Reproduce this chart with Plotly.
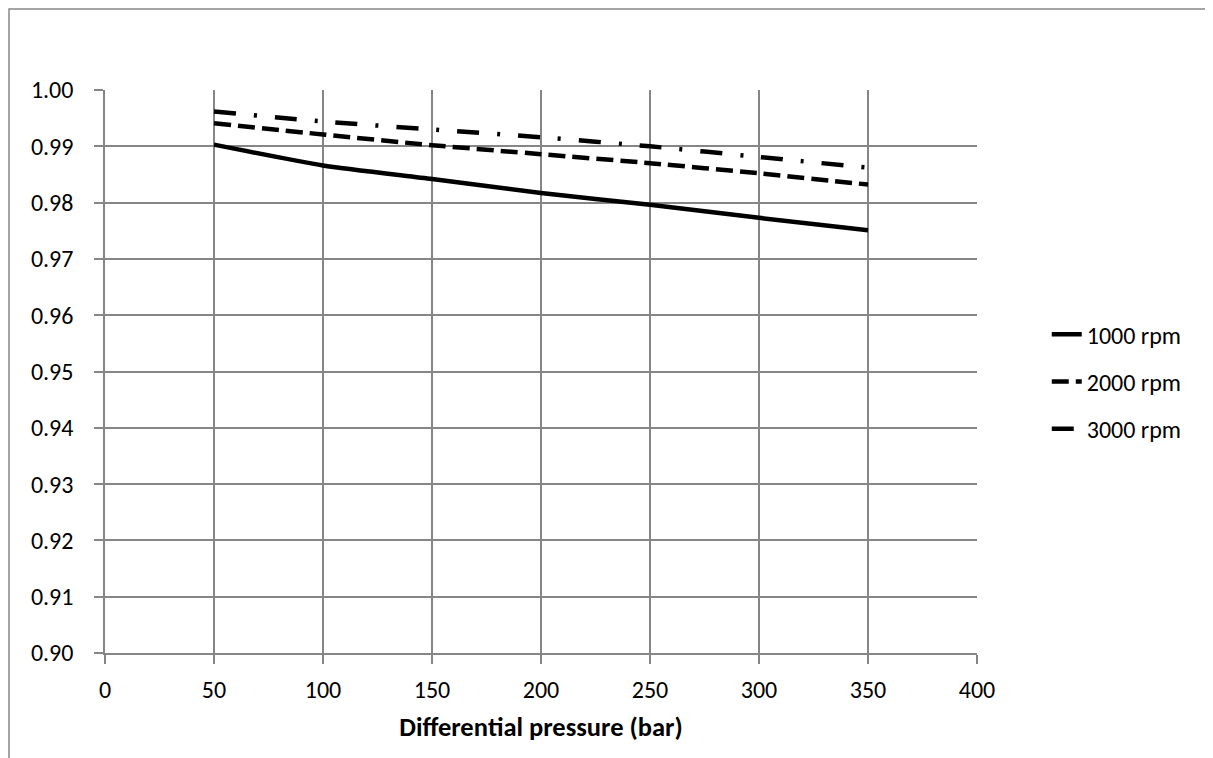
import plotly.graph_objects as go

pressure = [50, 100, 150, 200, 250, 300, 350]
eff_1000 = [0.9903, 0.9866, 0.9842, 0.9817, 0.9796, 0.9773, 0.9751]
eff_2000 = [0.9941, 0.9921, 0.9902, 0.9886, 0.9870, 0.9852, 0.9832]
eff_3000 = [0.9962, 0.9944, 0.9930, 0.9916, 0.9900, 0.9881, 0.9862]
series_names = ["1000 rpm", "2000 rpm", "3000 rpm"]
x_ticks = [0, 50, 100, 150, 200, 250, 300, 350, 400]
y_ticks = [0.90, 0.91, 0.92, 0.93, 0.94, 0.95, 0.96, 0.97, 0.98, 0.99, 1.00]
x_title = "Differen\u200ctial pressure (bar)"

FONT = "Carlito, Lato, 'Open Sans', sans-serif"
GRID = "#868686"

fig = go.Figure()
styles = ["solid", "17px,7px", "22px,18px,3px,18px"]
for i, (name, ys) in enumerate(zip(series_names, [eff_1000, eff_2000, eff_3000])):
    fig.add_trace(go.Scatter(
        x=pressure, y=ys, mode="lines", name=name, legendgroup=name,
        line=dict(color="black", width=4.5, dash=styles[i], shape="spline", smoothing=0.6),
    ))

L, T, PW, PH = 97, 82, 872, 563
fig.update_layout(
    width=1213, height=758,
    margin=dict(l=L, r=1213 - L - PW, t=T, b=758 - T - PH, pad=0),
    paper_bgcolor="white", plot_bgcolor="white",
    font=dict(family=FONT, size=24, color="black"),
    showlegend=True,
    legend=dict(x=1.08, xanchor="left", y=0.482, yanchor="middle",
                font=dict(size=24), tracegroupgap=13, bgcolor="rgba(0,0,0,0)"),
    xaxis=dict(range=[0, 400], tickvals=x_ticks, showgrid=True, gridcolor=GRID, gridwidth=1.5,
               showline=True, linecolor=GRID, linewidth=1.5, ticks="outside", ticklen=9,
               tickcolor=GRID, tickwidth=1.5, zeroline=False, ticklabelstandoff=5,
               title=dict(text="<b>" + x_title + "</b>", standoff=15,
                          font=dict(size=26.5))),
    yaxis=dict(range=[0.90, 1.00], tickvals=y_ticks, tickformat=".2f", showgrid=True,
               gridcolor=GRID, gridwidth=1.5, showline=True, linecolor=GRID, linewidth=1.5,
               ticks="outside", ticklen=9, tickcolor=GRID, tickwidth=1.5, zeroline=False,
               ticklabelstandoff=16),
    shapes=[dict(type="rect", xref="paper", yref="paper",
                 x0=(9 - 105) / PW, x1=(1230 - 105) / PW,
                 y0=(653 - 780) / PH, y1=(653 - 9) / PH,
                 line=dict(color="#888888", width=1.5), fillcolor="rgba(0,0,0,0)", layer="below")],
)

fig.write_html("out.html")
